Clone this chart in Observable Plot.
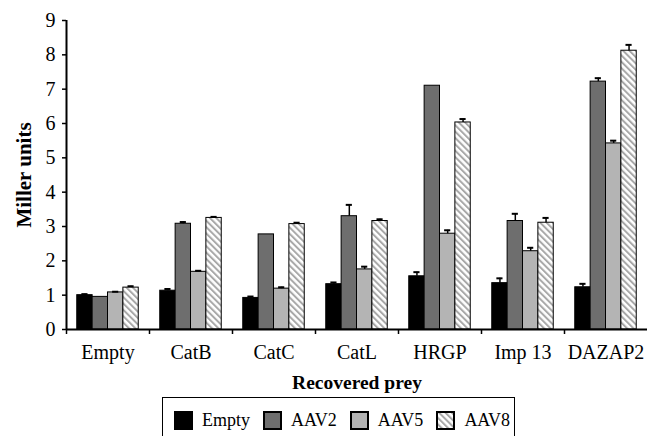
<!DOCTYPE html>
<html>
<head>
<meta charset="utf-8">
<script src="https://cdn.jsdelivr.net/npm/d3@7"></script>
<script src="https://cdn.jsdelivr.net/npm/@observablehq/plot@0.6"></script>
<style>
  html, body { margin: 0; padding: 0; background: white; }
  #chart { position: absolute; left: 0; top: 0; }
  #legend {
    position: absolute; left: 162px; top: 397px; width: 353px; height: 50px;
    border: 1.5px solid black; box-sizing: border-box;
    font-family: "Liberation Serif", "Times New Roman", serif; font-size: 18px;
    display: flex; align-items: flex-start; padding: 12px 0 0 11px;
  }
  .item { display: flex; align-items: center; margin-right: 13px; }
  .item svg { margin-right: 9px; }
</style>
</head>
<body>
<div id="chart"></div>
<div id="legend"></div>
<script>
// ---- data ----
const preys = ["Empty", "CatB", "CatC", "CatL", "HRGP", "Imp 13", "DAZAP2"];
const seriesNames = ["Empty", "AAV2", "AAV5", "AAV8"];
const emptyValues = [1.00, 1.13, 0.92, 1.32, 1.55, 1.35, 1.23];
const aav2Values  = [0.95, 3.08, 2.77, 3.30, 7.10, 3.16, 7.22];
const aav5Values  = [1.08, 1.68, 1.19, 1.75, 2.79, 2.28, 5.42];
const aav8Values  = [1.22, 3.25, 3.07, 3.16, 6.03, 3.11, 8.12];
const emptyErrors = [0.03, 0.05, 0.04, 0.05, 0.12, 0.14, 0.10];
const aav2Errors  = [0.00, 0.05, 0.00, 0.33, 0.00, 0.21, 0.10];
const aav5Errors  = [0.02, 0.03, 0.04, 0.08, 0.10, 0.10, 0.08];
const aav8Errors  = [0.04, 0.03, 0.04, 0.05, 0.10, 0.14, 0.17];
const yTicks = [0, 1, 2, 3, 4, 5, 6, 7, 8, 9];
const fills = ["#000000", "#6e6e6e", "#b4b4b4", "url(#hatch)"];

const valuesBySeries = [emptyValues, aav2Values, aav5Values, aav8Values];
const errorsBySeries = [emptyErrors, aav2Errors, aav5Errors, aav8Errors];
const rows = preys.flatMap((prey, j) => seriesNames.map((series, i) => ({
  prey, series, i, value: valuesBySeries[i][j], err: errorsBySeries[i][j]
})));

const pad = 0.7; // outer padding within each group, in bar widths
const serif = "'Liberation Serif', 'Times New Roman', serif";

const plot = Plot.plot({
  width: 649, height: 395,
  marginLeft: 63, marginRight: 0, marginTop: 20, marginBottom: 66,
  style: `font-family: ${serif}; font-size: 20px; color: black; background: white; overflow: visible;`,
  fx: { domain: preys, padding: 0 },
  x: { domain: [0, seriesNames.length + 2 * pad] },
  y: { domain: [0, 9] },
  color: { domain: seriesNames, range: fills },
  marks: [
    Plot.rectY(rows, { fx: "prey", x1: d => d.i + pad, x2: d => d.i + 1 + pad, y1: 0, y2: "value",
      fill: "series", stroke: "black", strokeWidth: 1 }),
    Plot.ruleX(rows.filter(d => d.err > 0), { fx: "prey", x: d => d.i + 0.5 + pad, y1: "value", y2: d => d.value + d.err, strokeWidth: 1.5 }),
    Plot.ruleY(rows.filter(d => d.err > 0), { fx: "prey", y: d => d.value + d.err, x1: d => d.i + 0.5 + pad - 0.2, x2: d => d.i + 0.5 + pad + 0.2, strokeWidth: 2 }),
    Plot.ruleY([0], { strokeWidth: 2 }),
    Plot.ruleX([preys[0]], { fx: d => d, x: () => 0, y1: 0, y2: 9, strokeWidth: 2 }),
    Plot.axisX({ ticks: [0], tickSize: 5, tickFormat: () => "", label: null, strokeWidth: 1.5 }),
    Plot.axisY({ ticks: yTicks, tickSize: 4, tickPadding: 7, tickFormat: d => String(d), fontSize: 20,
      label: "Miller units", labelAnchor: "center", labelOffset: 50, labelArrow: "none", strokeWidth: 1.5 }),
    Plot.axisFx({ anchor: "bottom", tickSize: 0, tickPadding: 15, fontSize: 20,
      label: "Recovered prey", labelAnchor: "center", labelOffset: 59, labelArrow: "none" })
  ]
});

d3.select(plot).insert("defs", ":first-child").html(`
  <pattern id="hatch" patternUnits="userSpaceOnUse" width="4.5" height="4.5" patternTransform="rotate(-45)">
    <rect width="4.5" height="4.5" fill="white"></rect>
    <line x1="1" y1="0" x2="1" y2="4.5" stroke="#a8a8a8" stroke-width="2"></line>
  </pattern>`);

// serif everywhere, bold axis titles
d3.select(plot).selectAll("g, text").style("font-family", serif).style("font-variant", "normal");
d3.select(plot).selectAll('[aria-label="y-axis label"] text').style("font-weight", "bold").style("font-size", "21px");
d3.select(plot).selectAll('[aria-label="fx-axis label"] text').style("font-weight", "bold").style("font-size", "19.5px");

document.getElementById("chart").appendChild(plot);

// legend
const legend = d3.select("#legend");
seriesNames.forEach((name, i) => {
  const item = legend.append("div").attr("class", "item");
  const sw = item.append("svg").attr("width", 19).attr("height", 19);
  sw.append("rect").attr("x", 1).attr("y", 1).attr("width", 17).attr("height", 17)
    .attr("fill", fills[i]).attr("stroke", "black").attr("stroke-width", 2);
  item.append("span").text(name);
});
</script>
</body>
</html>
